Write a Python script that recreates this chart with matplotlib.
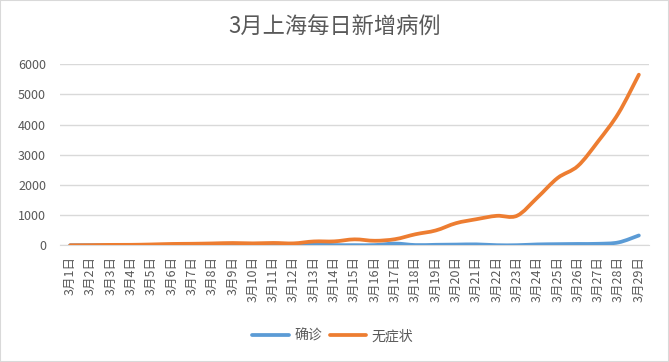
import numpy as np
import matplotlib.pyplot as plt
from matplotlib.path import Path
from matplotlib.patches import PathPatch, Rectangle
from matplotlib.lines import Line2D

plt.rcParams['font.family'] = ['Noto Sans CJK SC', 'DejaVu Sans']

days = [f'3月{d}日' for d in range(1, 30)]
confirmed = [1, 3, 2, 3, 0, 3, 4, 3, 4, 11, 5, 1, 41, 9, 5, 8, 57, 8, 17, 24,
             31, 4, 4, 29, 38, 45, 50, 96, 326]
asymptomatic = [1, 5, 14, 16, 28, 45, 51, 62, 76, 64, 78, 64, 128, 130, 197, 150,
                203, 366, 492, 734, 865, 977, 979, 1580, 2231, 2631, 3450, 4381, 5656]
yticks = [0, 1000, 2000, 3000, 4000, 5000, 6000]

blue = '#5B9BD5'
orange = '#ED7D31'
grey = '#595959'


def smooth_path(x, y):
    # Catmull-Rom style cubic bezier through the data points (like Excel's smoothed line)
    pts = np.column_stack([x, y]).astype(float)
    n = len(pts)
    verts = [pts[0]]
    codes = [Path.MOVETO]
    for i in range(n - 1):
        p0 = pts[i - 1] if i > 0 else pts[i]
        p1 = pts[i]
        p2 = pts[i + 1]
        p3 = pts[i + 2] if i + 2 < n else pts[i + 1]
        c1 = p1 + (p2 - p0) / 6
        c2 = p2 - (p3 - p1) / 6
        verts += [c1, c2, p2]
        codes += [Path.CURVE4] * 3
    return Path(verts, codes)


fig = plt.figure(figsize=(6.69, 3.62), dpi=100)
ax = fig.add_axes([60 / 669, 1 - 245.3 / 362, 589 / 669, 181 / 362])

x = np.arange(len(days))
for vals, col in [(confirmed, blue), (asymptomatic, orange)]:
    patch = PathPatch(smooth_path(x, vals), facecolor='none', edgecolor=col,
                      lw=2.7, capstyle='round', joinstyle='round', zorder=3)
    ax.add_patch(patch)

ax.set_xlim(-0.5, len(days) - 0.5)
ax.set_ylim(0, 6000)
ax.set_yticks(yticks)
ax.set_yticklabels([str(v) for v in yticks], color=grey, fontsize=9)
ax.set_xticks(x)
ax.set_xticklabels(days, rotation=90, color=grey, fontsize=9, va='top', ha='center')
ax.tick_params(axis='both', length=0)
ax.tick_params(axis='x', pad=8)
ax.tick_params(axis='y', pad=10)
ax.grid(axis='y', color='#D9D9D9', lw=1)
ax.set_axisbelow(True)
for s in ['top', 'right', 'left']:
    ax.spines[s].set_visible(False)
ax.spines['bottom'].set_color('#D9D9D9')

fig.text(0.5, 1 - 27 / 362, '3月上海每日新增病例', ha='center', va='center',
         fontsize=16, color=grey)

handles = [Line2D([], [], color=blue, lw=2.7, solid_capstyle='round'),
           Line2D([], [], color=orange, lw=2.7, solid_capstyle='round')]
fig.legend(handles, ['确诊', '无症状'], loc='center', bbox_to_anchor=(333 / 669, 1 - 336 / 362),
           ncol=2, frameon=False, fontsize=10, handlelength=2.6, columnspacing=0.6,
           handletextpad=0.4, labelcolor=grey)

fig.add_artist(Rectangle((0, 0), 1, 1, transform=fig.transFigure, fill=False,
                         edgecolor='#D9D9D9', lw=1.5))

fig.savefig('out.png', dpi=100)
